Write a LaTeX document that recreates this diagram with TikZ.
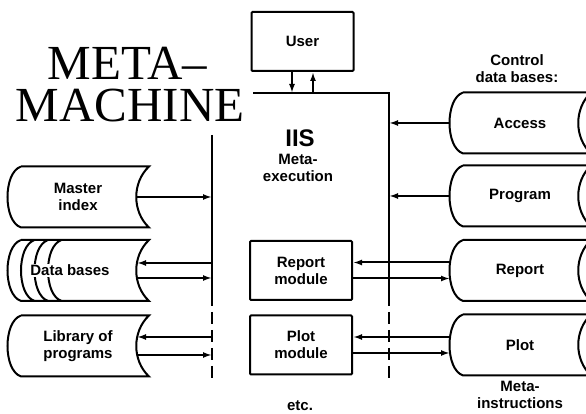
\documentclass[tikz,border=0pt]{standalone}
\usepackage{fontspec}
\setmainfont{Liberation Sans}
\newfontfamily\titlefont{Liberation Serif}
\usetikzlibrary{arrows.meta,positioning,calc}

% outline of a stored-data drum round a node
\newcommand{\drumline}[1]{%
  \draw ([xshift=14pt]#1.north west) -- (#1.north east)
    .. controls +(-17pt,-16pt) and +(-17pt,16pt) .. (#1.south east)
    -- ([xshift=14pt]#1.south west)
    .. controls +(-18pt,6pt) and +(-18pt,-6pt) .. ([xshift=14pt]#1.north west);}

\begin{document}
\begin{tikzpicture}[x=1pt,y=1pt,line width=2pt,>={Latex[length=9pt,width=6pt]},
    lbl/.style={font=\bfseries\fontsize{15}{17}\selectfont, align=center},
    box/.style={draw, rounded corners=1pt, minimum width=102pt, minimum height=59pt, lbl},
    store/.style={minimum width=140pt, minimum height=59pt, inner sep=0pt, lbl},
    title/.style={font=\titlefont\fontsize{49}{42}\selectfont, align=left, anchor=south west,
      inner sep=0pt, text depth=0pt},
    bus/.style={dash pattern=on 12pt off 6pt}]
  \fill[white] (0,0) rectangle (586,414);
  \useasboundingbox (0,0) rectangle (586,414);
  \clip (0,0) rectangle (586,414);

  % title
  \node[title] (title) at (15,291) {\hspace*{32pt}META–\\MACHINE};

  % user and IIS frame
  \node[box] (user) at (302.5,372.5) {User};
  \coordinate (iisnw) at (253,321);
  \coordinate (rtop) at (389,321);
  \coordinate (rmid) at (389,120);
  \coordinate (rbot) at (389,32);
  \coordinate (ltop) at (212,279);
  \coordinate (lmid) at (212,120);
  \coordinate (lbot) at (212,32);
  \draw (iisnw) -- (rtop) -- (rmid);
  \draw[bus] (rmid) -- (rbot);
  \draw (ltop) -- (lmid);
  \draw[bus] (lmid) -- (lbot);
  \node[font=\bfseries\fontsize{24}{24}\selectfont] (iis) at (300,276) {IIS};
  \node[lbl] (iisexec) at (298,246.5) {Meta-\\execution};

  \node[box] (rm) at (301,143.5) {Report\\module};
  \node[box] (pm) at (301,69) {Plot\\module};
  \node[lbl] (etc) at (300,8) {etc.};

  % left data bases
  \node[store] (mi) at (78,217) {Master\\index};
  \node[store] (db) at (78,143.5) {};
  \node[store] (lib) at (78,68) {Library of\\programs};
  \drumline{mi}
  \drumline{db}
  \drumline{lib}
  \foreach \d in {27.5,41,54.5}
    \draw ([xshift=\d pt]db.south west) .. controls +(-18pt,6pt) and +(-18pt,-6pt) .. ([xshift=\d pt]db.north west);
  \node[lbl, fill=white, inner sep=1pt] (dbtext) at ([xshift=-8pt]db.center) {Data bases};

  % control data bases
  \node[lbl] (ctl) at (517,345.5) {Control\\data bases:};
  \node[store] (ac) at (520,291) {Access};
  \node[store] (pg) at (520,218) {Program};
  \node[store] (rs) at (520,143.5) {Report};
  \node[store] (ps) at (520,69) {Plot};
  \drumline{ac}
  \drumline{pg}
  \drumline{rs}
  \drumline{ps}
  \node[lbl] (metains) at (520,19) {Meta-\\instructions};

  % user <-> IIS
  \draw[->] ([xshift=-10.5pt]user.south) -- ([xshift=-10.5pt]user.south |- iisnw);
  \draw[->] ([xshift=10.5pt]user.south |- iisnw) -- ([xshift=10.5pt]user.south);

  % left side
  \draw[->] ([xshift=-13pt]mi.east) -- (mi.east -| ltop);
  \draw[->] ([yshift=7.5pt]db.east -| ltop) -- ([shift={(-12pt,7.5pt)}]db.east);
  \draw[->] ([shift={(-12pt,-7.5pt)}]db.east) -- ([yshift=-7.5pt]db.east -| ltop);
  \draw[->] ([yshift=9pt]lib.east -| ltop) -- ([shift={(-12pt,9pt)}]lib.east);
  \draw[->] ([shift={(-12pt,-9pt)}]lib.east) -- ([yshift=-9pt]lib.east -| ltop);

  % right side
  \draw[->] (ac.west) -- (ac.west -| rtop);
  \draw[->] (pg.west) -- (pg.west -| rtop);
  \draw[->] ([shift={(1pt,8pt)}]rs.west) -- ([yshift=8pt]rs.west -| rm.east);
  \draw[->] ([yshift=-8pt]rs.west -| rm.east) -- ([shift={(1pt,-8pt)}]rs.west);
  \draw[->] ([shift={(1pt,8pt)}]ps.west) -- ([yshift=8pt]ps.west -| pm.east);
  \draw[->] ([yshift=-8pt]ps.west -| pm.east) -- ([shift={(1pt,-8pt)}]ps.west);
\end{tikzpicture}
\end{document}
